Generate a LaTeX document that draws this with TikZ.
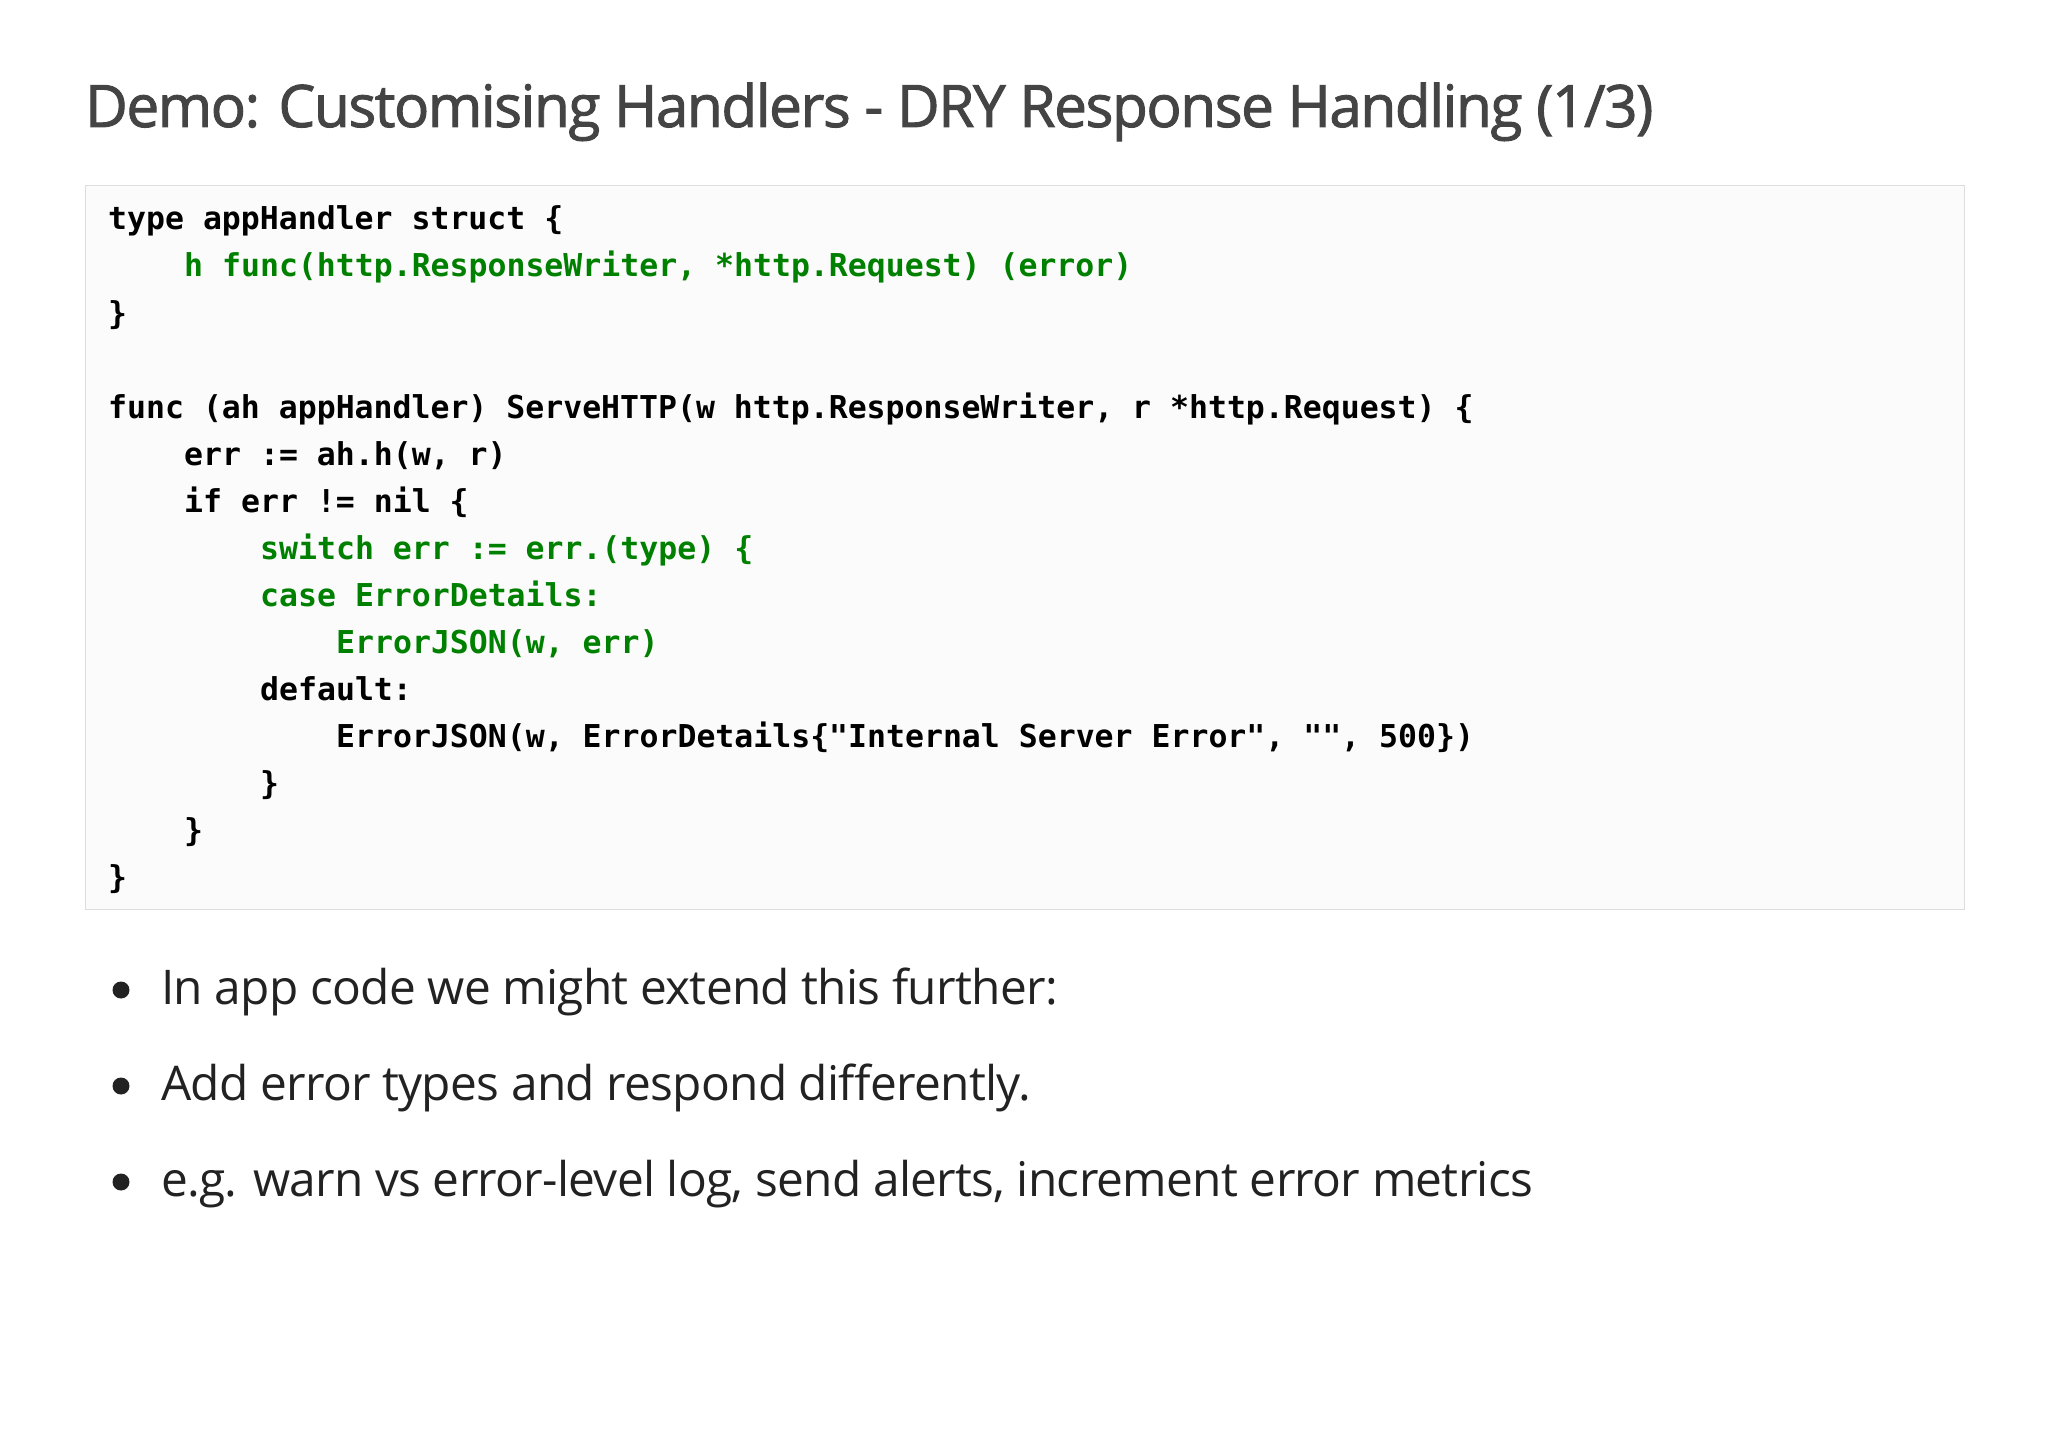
\documentclass[tikz,border=0pt]{standalone}
\usepackage{fontspec}
\setmainfont{Open Sans}
\setmonofont{DejaVu Sans Mono}
\newfontfamily\titlefont[FakeBold=1.6,LetterSpace=-2.5]{Open Sans}
\newfontfamily\bulfont[LetterSpace=-1.5]{Open Sans}
\definecolor{codegreen}{RGB}{0,128,0}
\definecolor{titlegray}{RGB}{68,68,68}
\definecolor{txt}{RGB}{34,34,34}
\begin{document}
\begin{tikzpicture}[x=1pt,y=-1pt,
  code/.style={anchor=base west,inner sep=0pt,font=\fontsize{31.5}{31.5}\ttfamily\bfseries},
  gcode/.style={code,text=codegreen},
  bul/.style={anchor=base west,inner sep=0pt,font=\bulfont\fontsize{47.8}{47.8}\selectfont,text=txt}]
\useasboundingbox[fill=white] (0,0) rectangle (2048,1447);
\node[anchor=base west,inner sep=0pt,font=\titlefont\fontsize{58.5}{58.5}\selectfont,text=titlegray] (title) at (85,127) {Demo: Customising Handlers - DRY Response Handling (1/3)};
\draw[draw={rgb,255:red,221;green,221;blue,221},fill={rgb,255:red,251;green,251;blue,251}] (85,185) rectangle (1964,909);
\def\cx{108}\def\ind{76}
\node[code] (l1) at (\cx,230) {type appHandler struct \{};
\node[gcode] (l2) at (\cx+\ind,277) {h func(http.ResponseWriter, *http.Request) (error)};
\node[code] (l3) at (\cx,324) {\}};
\node[code] (l4) at (\cx,418) {func (ah appHandler) ServeHTTP(w http.ResponseWriter, r *http.Request) \{};
\node[code] (l5) at (\cx+\ind,465) {err := ah.h(w, r)};
\node[code] (l6) at (\cx+\ind,512) {if err != nil \{};
\node[gcode] (l7) at (\cx+2*\ind,559) {switch err := err.(type) \{};
\node[gcode] (l8) at (\cx+2*\ind,606) {case ErrorDetails:};
\node[gcode] (l9) at (\cx+3*\ind,653) {ErrorJSON(w, err)};
\node[code] (l10) at (\cx+2*\ind,700) {default:};
\node[code] (l11) at (\cx+3*\ind,747) {ErrorJSON(w, ErrorDetails\{"Internal Server Error", "", 500\})};
\node[code] (l12) at (\cx+2*\ind,794) {\}};
\node[code] (l13) at (\cx+\ind,841) {\}};
\node[code] (l14) at (\cx,888) {\}};
\foreach \y/\t [count=\i] in {1004/{In app code we might extend this further:},1100/{Add error types and respond differently.},1196/{e.g. warn vs error-level log, send alerts, increment error metrics}}{
  \fill[txt] (121,\y-14) circle (8.5);
  \node[bul] (b\i) at (161,\y) {\t};
}
\end{tikzpicture}
\end{document}
